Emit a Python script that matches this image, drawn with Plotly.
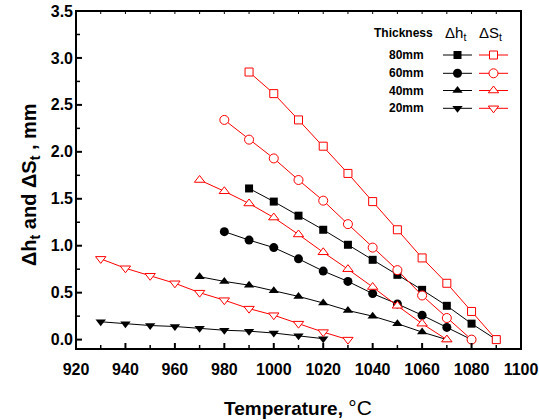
import plotly.graph_objects as go

# ---------------- data ----------------
thickness_labels = ["80mm", "60mm", "40mm", "20mm"]

temp_80 = [990, 1000, 1010, 1020, 1030, 1040, 1050, 1060, 1070, 1080, 1090]
dh_80 = [1.61, 1.47, 1.32, 1.17, 1.01, 0.85, 0.69, 0.53, 0.36, 0.17, 0.0]
ds_80 = [2.85, 2.62, 2.34, 2.06, 1.77, 1.47, 1.17, 0.87, 0.60, 0.30, 0.0]

temp_60 = [980, 990, 1000, 1010, 1020, 1030, 1040, 1050, 1060, 1070, 1080]
dh_60 = [1.15, 1.06, 0.98, 0.86, 0.73, 0.62, 0.49, 0.38, 0.26, 0.13, 0.0]
ds_60 = [2.34, 2.13, 1.93, 1.70, 1.48, 1.23, 0.98, 0.74, 0.47, 0.23, 0.0]

temp_40 = [970, 980, 990, 1000, 1010, 1020, 1030, 1040, 1050, 1060, 1070]
dh_40 = [0.67, 0.62, 0.58, 0.52, 0.46, 0.39, 0.31, 0.25, 0.17, 0.08, 0.0]
ds_40 = [1.70, 1.58, 1.45, 1.30, 1.12, 0.93, 0.75, 0.56, 0.36, 0.17, 0.0]

temp_20_h = [930, 940, 950, 960, 970, 980, 990, 1000, 1010, 1020]
dh_20 = [0.19, 0.17, 0.15, 0.14, 0.12, 0.10, 0.09, 0.07, 0.04, 0.01]
temp_20_s = [930, 940, 950, 960, 970, 980, 990, 1000, 1010, 1020, 1030]
ds_20 = [0.86, 0.76, 0.68, 0.60, 0.50, 0.42, 0.33, 0.26, 0.17, 0.08, 0.0]

x_ticks = [920, 940, 960, 980, 1000, 1020, 1040, 1060, 1080, 1100]
x_minor = [930, 950, 970, 990, 1010, 1030, 1050, 1070, 1090]
y_ticks = [0.0, 0.5, 1.0, 1.5, 2.0, 2.5, 3.0, 3.5]
y_minor = [0.25, 0.75, 1.25, 1.75, 2.25, 2.75, 3.25]

# ---------------- styles ----------------
FONT = "Liberation Sans, Arial, sans-serif"
BLACK = "#000000"
RED = "#FF0000"
symbols = ["square", "circle", "triangle-up", "triangle-down"]
sizes = [8, 9, 9, 9]

X_RANGE = [920, 1100]
Y_RANGE = [-0.1, 3.5]
L, R, T, B = 76, 521, 11, 349   # plot-area pixel box
DX = (X_RANGE[1] - X_RANGE[0]) / (R - L)   # data units per pixel
DY = (Y_RANGE[1] - Y_RANGE[0]) / (B - T)
PX = 1.0 / (R - L)                          # paper units per pixel
PY = 1.0 / (B - T)


def px_to_x(px):
    return X_RANGE[0] + (px - L) * DX


def py_to_y(py):
    return Y_RANGE[1] - (py - T) * DY


def paper_x(px):
    return (px - L) / (R - L)


def paper_y(py):
    return (B - py) / (B - T)


series = [
    (temp_80, dh_80, temp_80, ds_80),
    (temp_60, dh_60, temp_60, ds_60),
    (temp_40, dh_40, temp_40, ds_40),
    (temp_20_h, dh_20, temp_20_s, ds_20),
]

fig = go.Figure()

# ---------------- data series ----------------
for i, (th, h, ts, s) in enumerate(series):
    fig.add_trace(go.Scatter(
        x=th, y=h, mode="lines+markers",
        line=dict(color=BLACK, width=1),
        marker=dict(symbol=symbols[i], size=sizes[i], color=BLACK,
                    line=dict(color=BLACK, width=0)),
        cliponaxis=False, showlegend=False, hoverinfo="skip"))
for i, (th, h, ts, s) in enumerate(series):
    fig.add_trace(go.Scatter(
        x=ts, y=s, mode="lines+markers",
        line=dict(color=RED, width=1),
        marker=dict(symbol=symbols[i], size=sizes[i], color="white",
                    line=dict(color=RED, width=1)),
        cliponaxis=False, showlegend=False, hoverinfo="skip"))

# ---------------- frame and ticks as filled bars ----------------
bar = dict(type="rect", fillcolor=BLACK, line=dict(width=0), layer="above")
# frame (2 px)
fig.add_shape(xref="paper", yref="paper", x0=-PX, x1=1 + PX, y0=-PY, y1=PY, **bar)
fig.add_shape(xref="paper", yref="paper", x0=-PX, x1=1 + PX, y0=1 - PY, y1=1 + PY, **bar)
fig.add_shape(xref="paper", yref="paper", x0=-PX, x1=PX, y0=-PY, y1=1 + PY, **bar)
fig.add_shape(xref="paper", yref="paper", x0=1 - PX, x1=1 + PX, y0=-PY, y1=1 + PY, **bar)
# bottom ticks
for v in x_ticks:
    fig.add_shape(xref="x", yref="paper", x0=v - 1.0 * DX, x1=v + 1.0 * DX, y0=0, y1=6 * PY, **bar)
for v in x_minor:
    fig.add_shape(xref="x", yref="paper", x0=v - 0.75 * DX, x1=v + 0.75 * DX, y0=0, y1=4 * PY, **bar)
# left ticks
for v in y_ticks:
    fig.add_shape(xref="paper", yref="y", x0=0, x1=6 * PX, y0=v - 1.0 * DY, y1=v + 1.0 * DY, **bar)
for v in y_minor:
    fig.add_shape(xref="paper", yref="y", x0=0, x1=4 * PX, y0=v - 0.75 * DY, y1=v + 0.75 * DY, **bar)
# tiny top ticks
for v in x_ticks + x_minor:
    fig.add_shape(xref="x", yref="paper", x0=v - 0.5 * DX, x1=v + 0.5 * DX, y0=1 - 3 * PY, y1=1, **bar)

# ---------------- custom legend ----------------
row_y = [55, 73.3, 90.5, 108.3]
label_x = 406
h_x0, h_x1, h_xm = 443, 472, 457.5
s_x0, s_x1, s_xm = 479, 508, 493.5

for i, lab in enumerate(thickness_labels):
    yy = py_to_y(row_y[i])
    fig.add_trace(go.Scatter(x=[px_to_x(h_x0), px_to_x(h_x1)], y=[yy, yy], mode="lines",
                             line=dict(color=BLACK, width=1),
                             showlegend=False, hoverinfo="skip"))
    fig.add_trace(go.Scatter(x=[px_to_x(h_xm)], y=[yy], mode="markers",
                             marker=dict(symbol=symbols[i], size=sizes[i], color=BLACK),
                             showlegend=False, hoverinfo="skip"))
    fig.add_trace(go.Scatter(x=[px_to_x(s_x0), px_to_x(s_x1)], y=[yy, yy], mode="lines",
                             line=dict(color=RED, width=1),
                             showlegend=False, hoverinfo="skip"))
    fig.add_trace(go.Scatter(x=[px_to_x(s_xm)], y=[yy], mode="markers",
                             marker=dict(symbol=symbols[i], size=sizes[i], color="white",
                                         line=dict(color=RED, width=1)),
                             showlegend=False, hoverinfo="skip"))
    fig.add_annotation(x=paper_x(label_x), y=paper_y(row_y[i]), xref="paper", yref="paper",
                       text="<b>" + lab + "</b>", showarrow=False, xanchor="center", yanchor="middle",
                       font=dict(family=FONT, size=12, color=BLACK))

fig.add_annotation(x=paper_x(403), y=paper_y(33), xref="paper", yref="paper", text="<b>Thickness</b>",
                   showarrow=False, xanchor="center", yanchor="middle",
                   font=dict(family=FONT, size=12, color=BLACK))
fig.add_annotation(x=paper_x(455), y=paper_y(33), xref="paper", yref="paper", text="Δh<sub>t</sub>",
                   showarrow=False, xanchor="center", yanchor="middle",
                   font=dict(family=FONT, size=15, color=BLACK))
fig.add_annotation(x=paper_x(490), y=paper_y(33), xref="paper", yref="paper", text="ΔS<sub>t</sub>",
                   showarrow=False, xanchor="center", yanchor="middle",
                   font=dict(family=FONT, size=15, color=BLACK))

# axis titles
fig.add_annotation(x=paper_x(298), y=paper_y(408), xref="paper", yref="paper",
                   text="<b>Temperature, </b><span style='font-size:21px'>°C</span>",
                   showarrow=False, xanchor="center", yanchor="middle",
                   font=dict(family=FONT, size=19, color=BLACK))
fig.add_annotation(x=paper_x(30), y=paper_y(185), xref="paper", yref="paper",
                   text="<b>Δh<sub>t</sub> and ΔS<sub>t</sub> , mm</b>",
                   textangle=-90, showarrow=False, xanchor="center", yanchor="middle",
                   font=dict(family=FONT, size=20, color=BLACK))

tickfont = dict(family=FONT, size=16, color=BLACK)

fig.update_layout(
    width=539, height=420,
    margin=dict(l=L, r=539 - R, t=T, b=420 - B, autoexpand=False),
    paper_bgcolor="white", plot_bgcolor="white",
    showlegend=False, hovermode=False, dragmode=False,
    xaxis=dict(range=X_RANGE, tickvals=x_ticks, ticktext=["<b>%d</b>" % v for v in x_ticks],
               ticks="", showline=False, showgrid=False, zeroline=False, automargin=False,
               tickfont=tickfont, ticklabelstandoff=9),
    yaxis=dict(range=Y_RANGE, tickvals=y_ticks, ticktext=["<b>%.1f</b>" % v for v in y_ticks],
               ticks="", showline=False, showgrid=False, zeroline=False, automargin=False,
               tickfont=tickfont, ticklabelstandoff=2),
)

fig.write_html("out.html", config={"displayModeBar": False, "staticPlot": True},
               post_script="document.body.style.margin='0px';document.body.style.overflow='hidden';")
